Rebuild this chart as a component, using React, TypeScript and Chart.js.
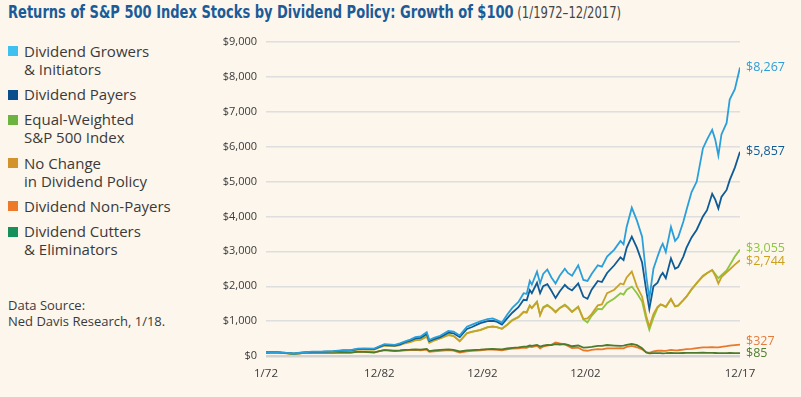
import React, { useEffect, useRef } from "react";
import { Chart, registerables } from "chart.js";

Chart.register(...registerables);

// ---- data (decimal years, growth of $100) ----
const dates = [
  1972.0, 1972.9, 1973.5, 1974.0, 1974.7, 1975.5, 1976.5, 1977.5, 1978.5, 1979.5,
  1980.2, 1980.9, 1981.5, 1982.5, 1983.0, 1983.5, 1984.5, 1985.0, 1985.5, 1986.0,
  1986.5, 1987.0, 1987.6, 1987.85, 1988.3, 1988.9, 1989.7, 1990.2, 1990.8, 1991.5,
  1992.0, 1992.8, 1993.5, 1994.0, 1994.4, 1994.9, 1995.4, 1995.9, 1996.5, 1997.0,
  1997.3, 1997.6, 1997.8, 1998.3, 1998.6, 1998.9, 1999.3, 1999.7, 2000.1, 2000.5,
  2001.0, 2001.3, 2001.7, 2002.3, 2002.8, 2003.2, 2003.6, 2004.2, 2004.6, 2005.1,
  2005.8, 2006.4, 2006.7, 2007.0, 2007.5, 2008.0, 2008.5, 2008.9, 2009.2, 2009.6,
  2010.0, 2010.3, 2010.5, 2010.8, 2011.3, 2011.7, 2012.0, 2012.5, 2012.8, 2013.3,
  2013.8, 2014.4, 2014.8, 2015.3, 2015.6, 2015.9, 2016.2, 2016.7, 2017.0, 2017.5, 2018.0,
];

const growers = [
  100, 112, 100, 92, 72, 100, 125, 128, 140, 165,
  170, 210, 215, 210, 280, 340, 320, 360, 420, 470,
  540, 560, 680, 460, 520, 580, 720, 700, 590, 840,
  900, 990, 1060, 1080, 1030, 960, 1180, 1380, 1550, 1800,
  1780, 2150, 2050, 2420, 2080, 2350, 2480, 2250, 2080, 2300,
  2500, 2380, 2300, 2600, 2180, 2150, 2350, 2600, 2560, 2850,
  3050, 3300, 3200, 3700, 4250, 3880, 3420, 2300, 1650, 2500,
  2850, 3100, 3220, 2980, 3700, 3300, 3400, 3850, 4180, 4700,
  5000, 5950, 6200, 6480, 6200, 5750, 6350, 6680, 7350, 7650, 8267,
];

const payers = [
  100, 110, 98, 90, 70, 96, 120, 122, 132, 155,
  160, 195, 200, 195, 260, 315, 300, 335, 395, 440,
  505, 520, 630, 430, 480, 540, 670, 650, 540, 775,
  830, 940, 1000, 1010, 985, 900, 1080, 1240, 1400, 1610,
  1600, 1890, 1800, 2100, 1800, 2000, 2060, 1870, 1660, 1850,
  2040, 1950, 1880, 2080, 1700, 1640, 1900, 2150, 2120, 2380,
  2600, 2830, 2750, 3100, 3420, 3100, 2680, 1880, 1350, 2000,
  2100, 2300, 2380, 2230, 2800, 2500, 2550, 2850, 3100, 3400,
  3620, 4000, 4180, 4650, 4480, 4230, 4560, 4760, 5040, 5400, 5857,
];

const equalWeighted = [
  100, 108, 92, 84, 62, 92, 118, 120, 132, 155,
  158, 195, 200, 192, 260, 315, 300, 330, 380, 420,
  470, 480, 570, 390, 450, 510, 610, 580, 430, 660,
  700, 750, 830, 850, 830, 780, 900, 1030, 1120, 1270,
  1260, 1450, 1380, 1560, 1180, 1400, 1470, 1380, 1270, 1380,
  1470, 1400, 1270, 1420, 1050, 960, 1150, 1350, 1340, 1520,
  1650, 1800, 1760, 1900, 1990, 1800, 1560, 1050, 750, 1100,
  1380, 1470, 1450, 1400, 1620, 1430, 1450, 1600, 1700, 1900,
  2090, 2300, 2380, 2470, 2350, 2230, 2320, 2450, 2600, 2850, 3055,
];

const noChange = [
  100, 110, 95, 86, 66, 92, 116, 118, 128, 150,
  152, 185, 190, 182, 245, 300, 285, 315, 365, 400,
  450, 460, 550, 380, 440, 505, 600, 570, 420, 650,
  690, 740, 820, 840, 830, 780, 890, 1020, 1110, 1260,
  1240, 1440, 1370, 1540, 1170, 1380, 1450, 1370, 1250, 1370,
  1450, 1380, 1260, 1400, 1060, 1080, 1200, 1450, 1480, 1800,
  1900, 2080, 2050, 2250, 2420, 1990, 1700, 1150, 840, 1200,
  1410, 1480, 1460, 1410, 1640, 1420, 1440, 1600, 1700, 1920,
  2090, 2280, 2370, 2460, 2300, 2080, 2260, 2400, 2480, 2620, 2744,
];

const nonPayers = [
  100, 112, 90, 78, 55, 80, 92, 88, 92, 104,
  100, 128, 120, 100, 140, 175, 140, 150, 165, 170,
  175, 165, 180, 120, 135, 150, 170, 155, 100, 130,
  150, 165, 180, 185, 175, 165, 190, 210, 220, 240,
  235, 270, 255, 290, 220, 270, 300, 320, 390, 360,
  330, 290, 230, 240, 160, 150, 175, 195, 190, 220,
  220, 225, 220, 260, 290, 250, 190, 110, 90, 130,
  150, 155, 150, 148, 175, 160, 165, 185, 195, 205,
  225, 245, 250, 255, 250, 245, 260, 280, 295, 310, 327,
];

const cutters = [
  100, 108, 92, 80, 58, 84, 98, 94, 96, 104,
  100, 120, 118, 106, 140, 170, 150, 160, 175, 180,
  190, 185, 205, 140, 160, 175, 190, 175, 130, 160,
  170, 180, 195, 200, 195, 190, 215, 235, 250, 270,
  270, 300, 290, 320, 270, 300, 320, 310, 340, 330,
  340, 320, 280, 300, 240, 250, 260, 290, 290, 315,
  300, 290, 300, 320, 345, 310, 220, 100, 75, 85,
  80, 82, 78, 80, 88, 80, 82, 86, 88, 90,
  92, 94, 92, 90, 86, 82, 84, 85, 86, 84, 85,
];

const seriesNames = [
  "Dividend Growers\n& Initiators",
  "Dividend Payers",
  "Equal-Weighted\nS&P 500 Index",
  "No Change\nin Dividend Policy",
  "Dividend Non-Payers",
  "Dividend Cutters\n& Eliminators",
];
const endLabels = ["$8,267", "$5,857", "$3,055", "$2,744", "$327", "$85"];
const xTickValues = [1972, 1983, 1993, 2003, 2018];
const xTickLabels = ["1/72", "12/82", "12/92", "12/02", "12/17"];
const yTickValues = [0, 1000, 2000, 3000, 4000, 5000, 6000, 7000, 8000, 9000];

// ---- styles ----
const lineColors = ["#2b9fd9", "#0e5b97", "#8cc63f", "#c8a228", "#e8782a", "#4b7b2b"];
const legendColors = ["#3ec1f0", "#0a4f8c", "#6cb43f", "#d4922a", "#ec7a2a", "#15905a"];
const labelColors = ["#2b9fd9", "#0e5b97", "#8cc63f", "#c9a020", "#e57b3a", "#4d7d2e"];
const labelDy = [0, 0, -1, 1, -3, 0];
const drawOrder = [1, 2, 4, 3, 6, 5];
const FONT = "'Open Sans', 'Noto Sans', sans-serif";
const TITLE_FONT = "'Liberation Sans Narrow', 'DejaVu Sans Condensed', 'Roboto Condensed', sans-serif";

export default function App() {
  const ref = useRef<HTMLCanvasElement>(null);

  useEffect(() => {
    const series = [growers, payers, equalWeighted, noChange, nonPayers, cutters];
    const endLabelPlugin = {
      id: "endLabels",
      afterDatasetsDraw(chart: any) {
        const ctx = chart.ctx;
        ctx.save();
        ctx.font = `12.5px ${FONT}`;
        ctx.textBaseline = "middle";
        ctx.textAlign = "left";
        chart.data.datasets.forEach((_: any, i: number) => {
          const meta = chart.getDatasetMeta(i);
          const pt = meta.data[meta.data.length - 1];
          ctx.fillStyle = labelColors[i];
          ctx.fillText(endLabels[i], pt.x + 6, pt.y + labelDy[i]);
        });
        ctx.restore();
      },
    };

    const chart = new Chart(ref.current as HTMLCanvasElement, {
      type: "line",
      data: {
        datasets: series.map((vals, i) => ({
          label: seriesNames[i],
          data: vals.map((v, j) => ({ x: dates[j], y: v })),
          borderColor: lineColors[i],
          backgroundColor: lineColors[i],
          borderWidth: 1.8,
          pointRadius: 0,
          tension: 0,
          order: drawOrder[i],
        })),
      },
      options: {
        animation: false,
        responsive: false,
        layout: { padding: { left: 0, right: 61, top: 42, bottom: 0 } },
        plugins: { legend: { display: false }, tooltip: { enabled: false } },
        scales: {
          x: {
            type: "linear",
            min: 1972,
            max: 2018,
            grid: { display: false, drawTicks: false },
            border: { display: false },
            afterBuildTicks: (axis: any) => {
              axis.ticks = xTickValues.map((v) => ({ value: v }));
            },
            afterFit: (s: any) => {
              s.height = 41;
            },
            ticks: {
              autoSkip: false,
              maxRotation: 0,
              padding: 11,
              color: "#3a3a3a",
              font: { family: FONT, size: 11.5 },
              callback: (v: any) => {
                const k = xTickValues.indexOf(Number(v));
                return k >= 0 ? xTickLabels[k] : "";
              },
            },
          },
          y: {
            min: 0,
            max: 9000,
            afterBuildTicks: (axis: any) => {
              axis.ticks = yTickValues.map((v) => ({ value: v }));
            },
            afterFit: (s: any) => {
              s.width = 266;
            },
            grid: {
              drawTicks: false,
              color: (c: any) => (c.tick && c.tick.value === 0 ? "#d2d2d2" : "#dedede"),
              lineWidth: (c: any) => (c.tick && c.tick.value === 0 ? 2.5 : 1.4),
            },
            border: { display: false },
            ticks: {
              padding: 9,
              color: "#3a3a3a",
              font: { family: FONT, size: 11 },
              callback: (v: any) => "$" + Number(v).toLocaleString("en-US"),
            },
          },
        },
      },
      plugins: [endLabelPlugin],
    } as any);
    return () => chart.destroy();
  }, []);

  const itemGap = 6.8;
  return (
    <div
      style={{
        position: "fixed",
        left: 0,
        top: 0,
        width: 801,
        height: 397,
        background: "#fdf6ec",
        overflow: "hidden",
        fontFamily: FONT,
      }}
    >
      <div
        style={{
          position: "absolute",
          left: 8,
          top: 1,
          lineHeight: "22px",
          whiteSpace: "nowrap",
          transform: "scaleX(0.805)",
          transformOrigin: "left top",
        }}
      >
        <span
          style={{
            fontFamily: TITLE_FONT,
            fontStretch: "condensed",
            fontWeight: 700,
            fontSize: 18,
            color: "#1b5b98",
          }}
        >
          Returns of S&amp;P 500 Index Stocks by Dividend Policy: Growth of $100
        </span>
        <span
          style={{
            fontFamily: TITLE_FONT,
            fontStretch: "condensed",
            fontSize: 16,
            color: "#444",
          }}
        >
          {" "}(1/1972–12/2017)
        </span>
      </div>

      <div
        style={{
          position: "absolute",
          left: 0,
          top: 41.7,
          display: "flex",
          flexDirection: "column",
          gap: itemGap,
        }}
      >
        {seriesNames.map((name, i) => (
          <div key={i} style={{ position: "relative", paddingLeft: 24 }}>
            <div
              style={{
                position: "absolute",
                left: 7.5,
                top: 4.5,
                width: 10,
                height: 10,
                background: legendColors[i],
              }}
            />
            <div
              style={{
                fontSize: 15,
                lineHeight: "18.3px",
                color: "#3a3a3a",
                whiteSpace: "pre-line",
              }}
            >
              {name}
            </div>
          </div>
        ))}
      </div>

      <div
        style={{
          position: "absolute",
          left: 8,
          top: 297,
          fontSize: 13,
          lineHeight: "16px",
          color: "#3a3a3a",
        }}
      >
        Data Source:
        <br />
        Ned Davis Research, 1/18.
      </div>

      <canvas
        ref={ref}
        width={801}
        height={397}
        style={{ position: "absolute", left: 0, top: 0, width: 801, height: 397 }}
      />
    </div>
  );
}
